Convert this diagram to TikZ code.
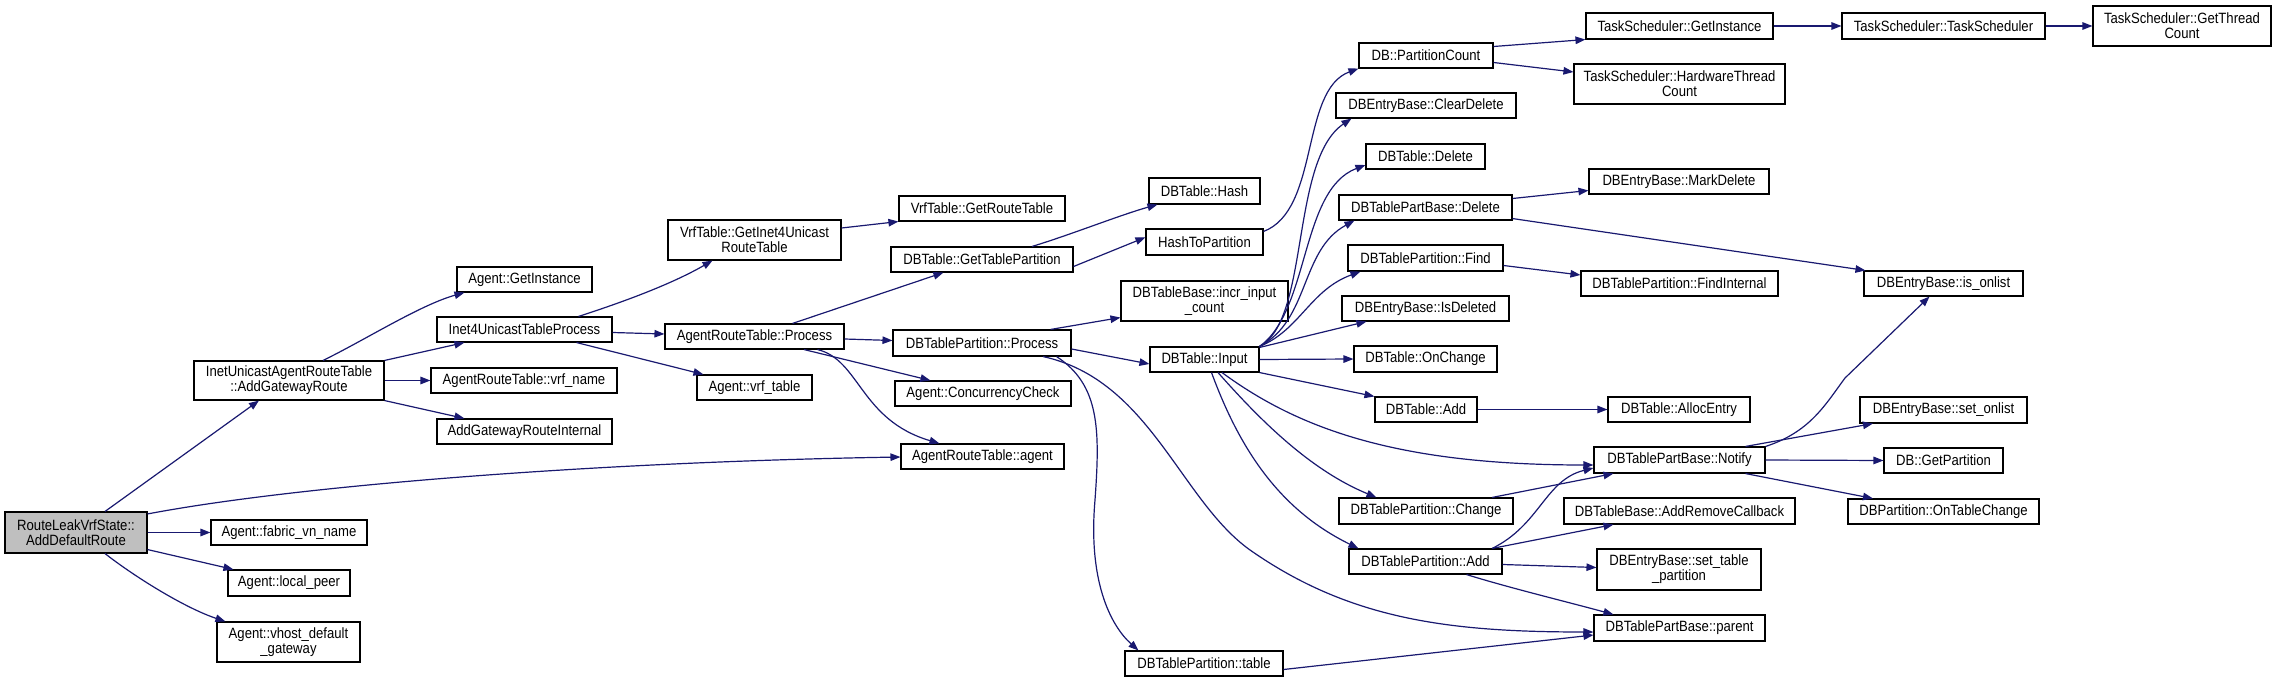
\documentclass[tikz,border=0pt]{standalone}
\usepackage{fontspec}
\setmainfont[FakeStretch=0.88]{Liberation Sans}
\usetikzlibrary{arrows.meta}
\definecolor{edgeblue}{HTML}{191970}
\definecolor{rootgray}{HTML}{BFBFBF}
\newcommand\fnfont{\fontsize{14.9}{15}\selectfont}
\tikzset{
  fn/.style={draw=black, line width=1.1pt, inner sep=0pt, align=center, font=\fnfont, fill=white},
  call/.style={draw=edgeblue, line width=1.2pt, -{Triangle[length=10pt,width=7.5pt]}}
}
\begin{document}
\begin{tikzpicture}[x=1pt,y=-1pt]
\useasboundingbox[fill=white] (0,0) rectangle (2276,682);
% column 1
\node[fn, fill=rootgray, minimum width=142, minimum height=41] (root) at (76,532.5) {RouteLeakVrfState::\\AddDefaultRoute};
% column 2
\node[fn, minimum width=190, minimum height=39] (iuart) at (289,380.5) {InetUnicastAgentRouteTable\\::AddGatewayRoute};
\node[fn, minimum width=156, minimum height=25] (fabric) at (289,532.5) {Agent::fabric\_vn\_name};
\node[fn, minimum width=122, minimum height=26] (localpeer) at (289,583) {Agent::local\_peer};
\node[fn, minimum width=143, minimum height=40] (vhost) at (288.5,642) {Agent::vhost\_default\\\_gateway};
% column 3
\node[fn, minimum width=135, minimum height=25] (getinst) at (524.5,279.5) {Agent::GetInstance};
\node[fn, minimum width=175, minimum height=25] (i4utp) at (524.5,329.5) {Inet4UnicastTableProcess};
\node[fn, minimum width=186, minimum height=25] (vrfname) at (524,380.5) {AgentRouteTable::vrf\_name};
\node[fn, minimum width=175, minimum height=25] (agri) at (524.5,431.5) {AddGatewayRouteInternal};
% column 4
\node[fn, minimum width=173, minimum height=40] (vrfgi4) at (754.5,240) {VrfTable::GetInet4Unicast\\RouteTable};
\node[fn, minimum width=179, minimum height=25] (artp) at (754.5,336.5) {AgentRouteTable::Process};
\node[fn, minimum width=115, minimum height=25] (vrftbl) at (754.5,387.5) {Agent::vrf\_table};
% column 5
\node[fn, minimum width=166, minimum height=25] (getrt) at (982,208.5) {VrfTable::GetRouteTable};
\node[fn, minimum width=182, minimum height=25] (gtp) at (982,259.5) {DBTable::GetTablePartition};
\node[fn, minimum width=178, minimum height=26] (dbtpp) at (982,343) {DBTablePartition::Process};
\node[fn, minimum width=176, minimum height=25] (concur) at (983,393.5) {Agent::ConcurrencyCheck};
\node[fn, minimum width=163, minimum height=25] (artagent) at (982.5,456.5) {AgentRouteTable::agent};
% column 6
\node[fn, minimum width=111, minimum height=26] (hash) at (1204.5,191) {DBTable::Hash};
\node[fn, minimum width=117, minimum height=26] (h2p) at (1204.5,242) {HashToPartition};
\node[fn, minimum width=167, minimum height=40] (incr) at (1204.5,301) {DBTableBase::incr\_input\\\_count};
\node[fn, minimum width=109, minimum height=25] (input) at (1204.5,359.5) {DBTable::Input};
\node[fn, minimum width=158, minimum height=25] (table) at (1204,663.5) {DBTablePartition::table};
% column 7
\node[fn, minimum width=134, minimum height=25] (pc) at (1426,55.5) {DB::PartitionCount};
\node[fn, minimum width=180, minimum height=25] (cleardel) at (1426,105.5) {DBEntryBase::ClearDelete};
\node[fn, minimum width=119, minimum height=25] (tdel) at (1425.5,156.5) {DBTable::Delete};
\node[fn, minimum width=173, minimum height=25] (tpbdel) at (1425.5,207.5) {DBTablePartBase::Delete};
\node[fn, minimum width=155, minimum height=26] (find) at (1425.5,258) {DBTablePartition::Find};
\node[fn, minimum width=167, minimum height=25] (isdel) at (1425.5,308.5) {DBEntryBase::IsDeleted};
\node[fn, minimum width=143, minimum height=26] (onchange) at (1425.5,359) {DBTable::OnChange};
\node[fn, minimum width=102, minimum height=25] (add) at (1426,409.5) {DBTable::Add};
\node[fn, minimum width=174, minimum height=26] (change) at (1426,511) {DBTablePartition::Change};
\node[fn, minimum width=153, minimum height=25] (tpadd) at (1425.5,561.5) {DBTablePartition::Add};
% column 8
\node[fn, minimum width=187, minimum height=26] (tsgi) at (1679.5,26) {TaskScheduler::GetInstance};
\node[fn, minimum width=211, minimum height=40] (tshw) at (1679.5,84) {TaskScheduler::HardwareThread\\Count};
\node[fn, minimum width=180, minimum height=25] (markdel) at (1679,181.5) {DBEntryBase::MarkDelete};
\node[fn, minimum width=197, minimum height=25] (findint) at (1679.5,283.5) {DBTablePartition::FindInternal};
\node[fn, minimum width=142, minimum height=25] (alloc) at (1679,409.5) {DBTable::AllocEntry};
\node[fn, minimum width=171, minimum height=26] (notify) at (1679.5,460) {DBTablePartBase::Notify};
\node[fn, minimum width=231, minimum height=26] (addrm) at (1679.5,511) {DBTableBase::AddRemoveCallback};
\node[fn, minimum width=164, minimum height=41] (setpart) at (1679,569.5) {DBEntryBase::set\_table\\\_partition};
\node[fn, minimum width=171, minimum height=26] (parent) at (1679.5,628) {DBTablePartBase::parent};
% column 9
\node[fn, minimum width=203, minimum height=26] (tsts) at (1943.5,26) {TaskScheduler::TaskScheduler};
\node[fn, minimum width=159, minimum height=25] (isonlist) at (1943.5,283.5) {DBEntryBase::is\_onlist};
\node[fn, minimum width=167, minimum height=26] (setonlist) at (1943.5,410) {DBEntryBase::set\_onlist};
\node[fn, minimum width=119, minimum height=25] (getpart) at (1943.5,460.5) {DB::GetPartition};
\node[fn, minimum width=191, minimum height=25] (ontc) at (1943.5,511.5) {DBPartition::OnTableChange};
% column 10
\node[fn, minimum width=178, minimum height=40] (gtc) at (2182,26) {TaskScheduler::GetThread\\Count};

% edges from root
\draw[call] ([xshift=29pt]root.north) -- ([xshift=-30pt]iuart.south);
\draw[call] ([yshift=-2.5pt]root.north east) .. controls (300,485) and (600,462) .. ([yshift=-0.5pt]artagent.west);
\draw[call] (root.east) -- (fabric.west);
\draw[call] ([yshift=4pt]root.south east) -- ([xshift=6pt]localpeer.north west);
\draw[call] ([xshift=29pt]root.south) .. controls (135,577) and (185,608) .. ([xshift=9pt]vhost.north west);
% from iuart
\draw[call] ([xshift=34pt]iuart.north) .. controls (365,340) and (420,305) .. ([xshift=8pt]getinst.south west);
\draw[call] (iuart.north east) -- ([xshift=28pt]i4utp.south west);
\draw[call] (iuart.east) -- (vrfname.west);
\draw[call] (iuart.south east) -- ([xshift=28pt]agri.north west);
% from i4utp
\draw[call] ([xshift=54pt]i4utp.north) .. controls (620,303) and (670,285) .. ([xshift=-42pt]vrfgi4.south);
\draw[call] ([yshift=-3pt]i4utp.east) -- ([yshift=2.5pt]artp.west);
\draw[call] ([xshift=52pt]i4utp.south) -- ([xshift=7pt]vrftbl.north west);
% from vrfgi4
\draw[call] ([yshift=12pt]vrfgi4.east) -- (getrt.south west);
% from artp
\draw[call] ([xshift=38pt]artp.north) -- ([xshift=53pt]gtp.south west);
\draw[call] ([yshift=-2.5pt]artp.east) -- ([yshift=2.5pt]dbtpp.west);
\draw[call] ([xshift=49.5pt]artp.south) -- ([xshift=36pt]concur.north west);
\draw[call] ([xshift=63pt]artp.south) .. controls (860,360) and (860,420) .. ([xshift=39pt]artagent.north west);
% from gtp
\draw[call] ([xshift=50pt]gtp.north) .. controls (1070,235) and (1120,215) .. ([xshift=9pt]hash.south west);
\draw[call] ([yshift=-7pt]gtp.east) -- ([yshift=4.7pt]h2p.west);
% from h2p
\draw[call] ([yshift=-3pt]h2p.north east) .. controls (1320,210) and (1300,90) .. (pc.south west);
% from pc
\draw[call] ([yshift=9pt]pc.east) -- (tsgi.south west);
\draw[call] ([yshift=-7pt]pc.east) -- ([yshift=12pt]tshw.west);
\draw[call] (tsgi.east) -- (tsts.west);
\draw[call] (tsts.east) -- (gtc.west);
% from dbtpp
\draw[call] ([xshift=-21pt]dbtpp.north east) -- ([yshift=4pt]incr.south west);
\draw[call] ([yshift=-6pt]dbtpp.east) -- ([yshift=-4.5pt]input.west);
\draw[call] ([xshift=-15pt]dbtpp.south east) .. controls (1100,385) and (1100,430) .. (1095,500)
  .. controls (1088,580) and (1110,625) .. ([xshift=14pt]table.north west);
\draw[call] ([xshift=61pt]dbtpp.south) .. controls (1150,380) and (1180,500) .. (1250,550)
  .. controls (1350,620) and (1450,632) .. ([yshift=-4pt]parent.west);
% from input
\draw[call] (input.north east) .. controls (1310,320) and (1290,160) .. ([xshift=16pt]cleardel.south west);
\draw[call] (input.north east) .. controls (1310,310) and (1300,190) .. ([yshift=-8.5pt]tdel.west);
\draw[call] (input.north east) .. controls (1310,320) and (1300,250) .. ([xshift=16pt]tpbdel.south west);
\draw[call] (input.north east) .. controls (1300,330) and (1310,290) .. ([xshift=13pt]find.south west);
\draw[call] ([yshift=-1pt]input.north east) -- ([xshift=25pt]isdel.south west);
\draw[call] (input.east) -- (onchange.west);
\draw[call] (input.south east) -- (add.north west);
\draw[call] ([xshift=17.5pt]input.south) .. controls (1300,430) and (1400,465) .. ([yshift=-5pt]notify.west);
\draw[call] ([xshift=13.5pt]input.south) .. controls (1260,420) and (1310,470) .. ([xshift=38pt]change.north west);
\draw[call] ([xshift=7pt]input.south) .. controls (1240,450) and (1280,510) .. ([xshift=10pt]tpadd.north west);
% column 7 onwards
\draw[call] (add.east) -- (alloc.west);
\draw[call] ([yshift=9pt]tpbdel.east) -- ([yshift=-9pt]markdel.west);
\draw[call] ([yshift=2pt]tpbdel.south east) -- ([xshift=2pt]isonlist.north west);
\draw[call] ([yshift=-7.5pt]find.east) -- ([yshift=8.5pt]findint.west);
\draw[call] (notify.north east) .. controls (1810,432) and (1825,405) .. (1845,378) -- ([xshift=-14pt]isonlist.south);
\draw[call] ([xshift=66pt]notify.north) -- ([xshift=13.5pt]setonlist.south west);
\draw[call] (notify.east) -- (getpart.west);
\draw[call] ([xshift=66pt]notify.south) -- ([xshift=25.5pt]ontc.north west);
\draw[call] ([xshift=-21.5pt]change.north east) -- ([xshift=20pt]notify.south west);
\draw[call] ([xshift=-10.5pt]tpadd.north east) .. controls (1540,525) and (1545,480) .. ([yshift=-8pt]notify.west);
\draw[call] ([xshift=-10.5pt]tpadd.north east) -- ([xshift=50pt]addrm.south west);
\draw[call] ([yshift=-3pt]tpadd.east) -- ([yshift=2pt]setpart.west);
\draw[call] ([xshift=41pt]tpadd.south) .. controls (1510,588) and (1560,600) .. ([xshift=20pt]parent.north west);
\draw[call] ([yshift=-6pt]table.east) -- ([yshift=-7pt]parent.west);
\end{tikzpicture}
\end{document}
